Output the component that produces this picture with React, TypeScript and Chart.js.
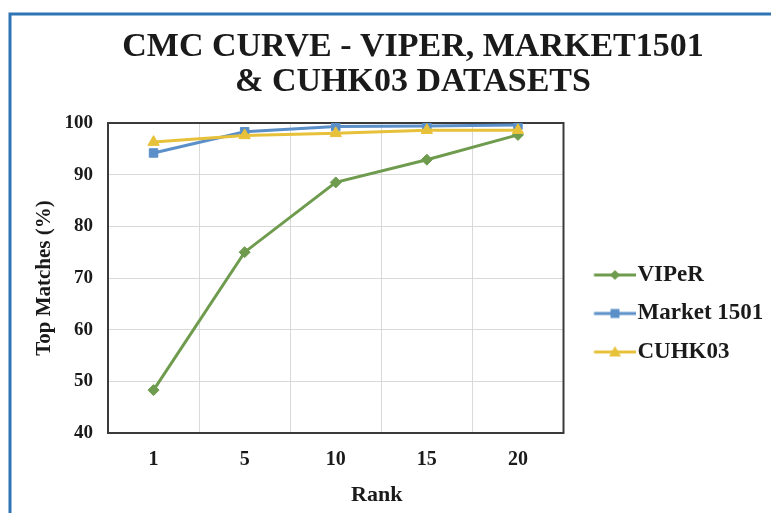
import React, { useEffect, useRef } from 'react';
import { Chart, registerables } from 'chart.js';

Chart.register(...registerables);

const ranks = ['1', '5', '10', '15', '20'];
const viperValues = [48.3, 75.0, 88.5, 92.9, 97.7];
const marketValues = [94.2, 98.3, 99.3, 99.4, 99.6];
const cuhkValues = [96.3, 97.6, 98.0, 98.6, 98.6];
const seriesNames = ['VIPeR', 'Market 1501', 'CUHK03'];
const titleLines = ['CMC CURVE - VIPER, MARKET1501', '& CUHK03 DATASETS'];
const xTitle = 'Rank';
const yTitle = 'Top Matches (%)';
const yMin = 40;
const yMax = 100;
const yStep = 10;

const FONT = "'Liberation Serif', 'Times New Roman', serif";
const TEXT = '#1a1a1a';
const GREEN = '#6e9b4d';
const BLUE = '#5b8fc8';
const GOLD = '#e8c13a';

function makeIcon(color: string, kind: string): HTMLCanvasElement {
  const c = document.createElement('canvas');
  c.width = 66;
  c.height = 20;
  const ctx = c.getContext('2d')!;
  ctx.strokeStyle = color;
  ctx.fillStyle = color;
  ctx.lineWidth = 3;
  ctx.beginPath();
  ctx.moveTo(24.5, 10);
  ctx.lineTo(66, 10);
  ctx.stroke();
  const cx = 45.5;
  const cy = 10;
  ctx.beginPath();
  if (kind === 'diamond') {
    ctx.moveTo(cx, cy - 5);
    ctx.lineTo(cx + 5, cy);
    ctx.lineTo(cx, cy + 5);
    ctx.lineTo(cx - 5, cy);
    ctx.closePath();
  } else if (kind === 'square') {
    ctx.rect(cx - 4.5, cy - 4.5, 9, 9);
  } else {
    ctx.moveTo(cx, cy - 6);
    ctx.lineTo(cx + 6, cy + 4.5);
    ctx.lineTo(cx - 6, cy + 4.5);
    ctx.closePath();
  }
  ctx.fill();
  return c;
}

const framePlugin = {
  id: 'frameDecor',
  beforeDraw(chart: any) {
    const { ctx, width, height } = chart;
    ctx.save();
    ctx.fillStyle = '#ffffff';
    ctx.fillRect(0, 0, width, height);
    ctx.strokeStyle = '#2f75b5';
    ctx.lineWidth = 3;
    ctx.beginPath();
    ctx.moveTo(10, height + 2);
    ctx.lineTo(10, 14);
    ctx.lineTo(width + 2, 14);
    ctx.stroke();
    ctx.restore();
  },
  beforeDatasetsDraw(chart: any) {
    const { ctx, chartArea } = chart;
    ctx.save();
    ctx.strokeStyle = '#3a3a3a';
    ctx.lineWidth = 2;
    ctx.strokeRect(chartArea.left, chartArea.top, chartArea.right - chartArea.left, chartArea.bottom - chartArea.top);
    ctx.restore();
  },
  afterDraw(chart: any) {
    const { ctx, chartArea } = chart;
    ctx.save();
    ctx.font = `bold 22px ${FONT}`;
    ctx.fillStyle = TEXT;
    ctx.textAlign = 'center';
    ctx.textBaseline = 'middle';
    const cx = (chartArea.left + chartArea.right) / 2 + 41;
    ctx.fillText(xTitle, cx, chartArea.bottom + 62);
    ctx.restore();
  },
};

export default function App() {
  const ref = useRef<HTMLCanvasElement | null>(null);
  useEffect(() => {
    if (!ref.current) return;
    const icons = [makeIcon(GREEN, 'diamond'), makeIcon(BLUE, 'square'), makeIcon(GOLD, 'triangle')];
    const chart = new Chart(ref.current, {
      type: 'line',
      data: {
        labels: ranks,
        datasets: [
          {
            label: seriesNames[0],
            data: viperValues,
            borderColor: GREEN,
            backgroundColor: GREEN,
            borderWidth: 3,
            pointStyle: 'rectRot',
            pointRadius: 5.5,
            pointBorderWidth: 1,
            order: 2,
          },
          {
            label: seriesNames[1],
            data: marketValues,
            borderColor: BLUE,
            backgroundColor: BLUE,
            borderWidth: 3,
            pointStyle: 'rect',
            pointRadius: 6,
            pointBorderWidth: 1,
            order: 1,
          },
          {
            label: seriesNames[2],
            data: cuhkValues,
            borderColor: GOLD,
            backgroundColor: GOLD,
            borderWidth: 3,
            pointStyle: 'triangle',
            pointRadius: 6.5,
            pointBorderWidth: 1,
            order: 0,
          },
        ],
      },
      options: {
        responsive: false,
        animation: false,
        layout: { padding: { top: 15, left: 62.5, right: 7.5, bottom: 0 } },
        plugins: {
          tooltip: { enabled: false },
          title: {
            display: true,
            text: titleLines,
            color: TEXT,
            font: { family: FONT, size: 34, weight: 'bold', lineHeight: 35 / 34 },
            padding: { top: 14.5, bottom: 23.5 },
          },
          legend: {
            display: true,
            position: 'right',
            maxWidth: 200,
            title: { display: true, text: ' ', font: { size: 12 }, padding: 42.3 },
            labels: {
              usePointStyle: true,
              pointStyleWidth: 47,
              padding: 15.5,
              color: TEXT,
              font: { family: FONT, size: 23, weight: 'bold' },
              generateLabels: (ch: any) =>
                ch.data.datasets.map((ds: any, i: number) => ({
                  text: ds.label,
                  pointStyle: icons[i],
                  fillStyle: 'transparent',
                  strokeStyle: 'transparent',
                  lineWidth: 0,
                  hidden: false,
                  datasetIndex: i,
                  fontColor: TEXT,
                })),
            },
          },
        },
        scales: {
          x: {
            type: 'category',
            offset: true,
            grid: { offset: true, color: '#d9d9d9', lineWidth: 1, drawTicks: false },
            border: { display: false },
            ticks: { color: TEXT, padding: 15, font: { family: FONT, size: 20, weight: 'bold' } },
            afterFit: (scale: any) => {
              scale.height = 80;
            },
          },
          y: {
            min: yMin,
            max: yMax,
            grid: { color: '#d9d9d9', lineWidth: 1, drawTicks: false },
            border: { display: false },
            ticks: { stepSize: yStep, color: TEXT, padding: 15, font: { family: FONT, size: 19, weight: 'bold' } },
            title: {
              display: true,
              text: yTitle,
              color: TEXT,
              font: { family: FONT, size: 21, weight: 'bold', lineHeight: 1.2 },
              padding: { top: -30.1, bottom: 0 },
            },
            afterFit: (scale: any) => {
              scale.width = 45.5;
            },
          },
        },
      },
      plugins: [framePlugin],
    });
    return () => chart.destroy();
  }, []);
  return (
    <div style={{ position: 'absolute', left: 0, top: 0, width: 771, height: 513 }}>
      <canvas ref={ref} width={771} height={513} style={{ display: 'block' }} />
    </div>
  );
}
